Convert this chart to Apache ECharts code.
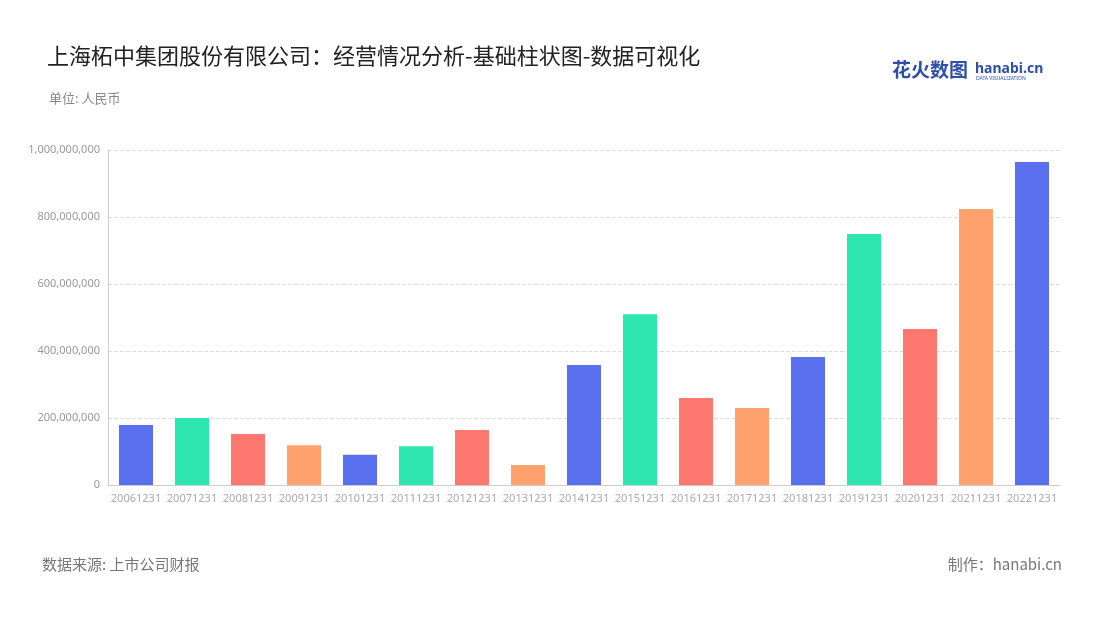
<!DOCTYPE html>
<html><head><meta charset="utf-8">
<script src="https://cdn.jsdelivr.net/npm/echarts@6/dist/echarts.min.js"></script>
<style>html,body{margin:0;padding:0;background:#fff}#c{width:1100px;height:620px}</style>
</head><body><div id="c"></div>
<script>
const categories=['20061231','20071231','20081231','20091231','20101231','20111231','20121231','20131231','20141231','20151231','20161231','20171231','20181231','20191231','20201231','20211231','20221231'];
const values=[179000000,200000000,152000000,119000000,90000000,116000000,164000000,60000000,358000000,510000000,260000000,230000000,382000000,749000000,466000000,824000000,964000000];
const palette=['#5b70ee','#2ee6b0','#ff7870','#ffa26e'];
const chart=echarts.init(document.getElementById('c'));
chart.setOption({
 title:[{text:'上海柘中集团股份有限公司：经营情况分析-基础柱状图-数据可视化',left:42,top:40,textStyle:{fontFamily:'Noto Sans CJK SC',fontSize:22,fontWeight:'normal',color:'#222'}},
  {text:'单位: 人民币',left:44,top:87,textStyle:{fontFamily:'Noto Sans CJK SC',fontSize:13,fontWeight:'normal',color:'#888'}}],
 graphic:[
  {type:'text',left:42,top:557,style:{text:'数据来源: 上市公司财报',font:'15px "Noto Sans CJK SC"',fill:'#777'}},
  {type:'text',right:38,top:557,style:{text:'制作：hanabi.cn',font:'15px "Noto Sans CJK SC"',fill:'#777'}},
  {type:'text',left:892,top:60,style:{text:'花火数图',font:'bold 19px "Noto Sans CJK SC"',fill:'#2d4fa8'}},
  {type:'text',left:975,top:62,style:{text:'hanabi.cn',font:'bold 14px "Noto Sans"',fill:'#2d4fa8'}},
  {type:'text',left:976,top:76,style:{text:'DATA VISUALIZATION',font:'5px "Noto Sans"',fill:'#2d4fa8'}}
 ],
 grid:{left:108,right:40,top:150,bottom:135},
 xAxis:{type:'category',data:categories,axisTick:{show:false},axisLine:{lineStyle:{color:'#ccc'}},axisLabel:{color:'#aaa',fontSize:11,interval:0,fontFamily:'Noto Sans'}},
 yAxis:{type:'value',min:0,max:1000000000,interval:200000000,axisLabel:{color:'#999',fontSize:11,fontFamily:'Noto Sans',formatter:v=>v.toLocaleString('en-US')},splitLine:{lineStyle:{type:'dashed',color:'#ddd'}},axisLine:{show:true,lineStyle:{color:'#ccc'}}},
 series:[{type:'bar',barWidth:34,data:values.map((v,i)=>({value:v,itemStyle:{color:palette[i%4]}}))}]
});
</script></body></html>
